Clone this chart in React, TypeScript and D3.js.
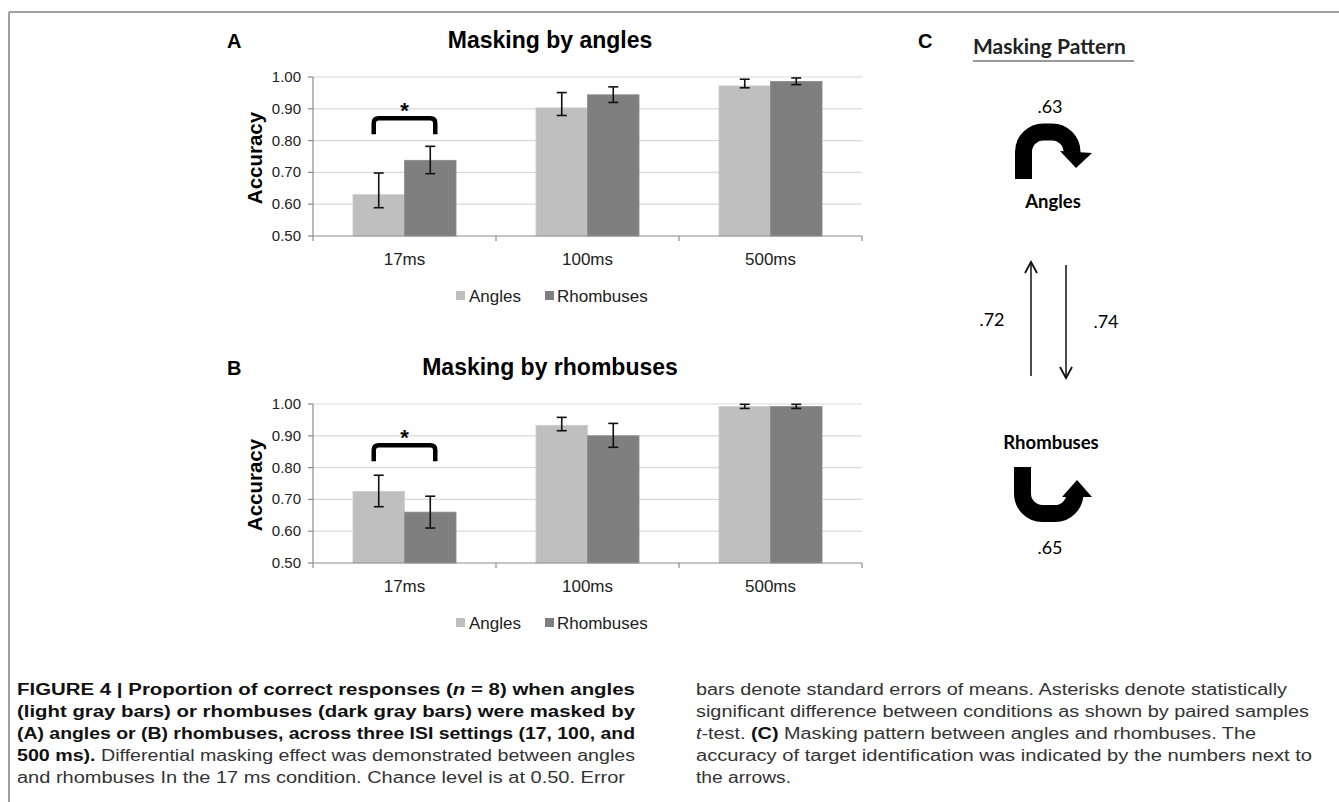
import React from 'react';
import * as d3 from 'd3';

// ---- data ----
const categories = ['17ms', '100ms', '500ms'];
const seriesNames = ['Angles', 'Rhombuses'];
const seriesColors = ['#bfbfbf', '#7f7f7f'];
const yTicks = [0.5, 0.6, 0.7, 0.8, 0.9, 1.0];

// panel A: masked by angles
const aAnglesMean = [0.63, 0.903, 0.972];
const aAnglesLo = [0.589, 0.879, 0.966];
const aAnglesHi = [0.698, 0.951, 0.993];
const aRhombMean = [0.738, 0.944, 0.986];
const aRhombLo = [0.696, 0.92, 0.976];
const aRhombHi = [0.782, 0.969, 0.997];

// panel B: masked by rhombuses
const bAnglesMean = [0.725, 0.933, 0.992];
const bAnglesLo = [0.677, 0.916, 0.986];
const bAnglesHi = [0.776, 0.958, 0.999];
const bRhombMean = [0.66, 0.9, 0.992];
const bRhombLo = [0.61, 0.864, 0.986];
const bRhombHi = [0.71, 0.939, 0.999];

// significance bracket (value range) over 17ms
const bracketLow = 0.82;
const bracketHigh = 0.87;

// panel C numbers: angles self, rhombuses->angles, angles->rhombuses, rhombuses self
const patternLabels = ['.63', '.72', '.74', '.65'];

type Seg = { t: string; b?: boolean; i?: boolean };
const captionLeft: Seg[][] = [
  [{ t: 'FIGURE 4 | Proportion of correct responses (', b: true }, { t: 'n', b: true, i: true }, { t: ' = 8) when angles', b: true }],
  [{ t: '(light gray bars) or rhombuses (dark gray bars) were masked by', b: true }],
  [{ t: '(A) angles or (B) rhombuses, across three ISI settings (17, 100, and', b: true }],
  [{ t: '500 ms).', b: true }, { t: ' Differential masking effect was demonstrated between angles' }],
  [{ t: 'and rhombuses In the 17 ms condition. Chance level is at 0.50. Error' }],
];
const captionLeftW = [618, 618, 618, 618, 608];
const captionRight: Seg[][] = [
  [{ t: 'bars denote standard errors of means. Asterisks denote statistically' }],
  [{ t: 'significant difference between conditions as shown by paired samples' }],
  [{ t: 't', i: true }, { t: '-test. ' }, { t: '(C)', b: true }, { t: ' Masking pattern between angles and rhombuses. The' }],
  [{ t: 'accuracy of target identification was indicated by the numbers next to' }],
  [{ t: 'the arrows.' }],
];
const captionRightW = [591, 613, 560, 616, 95];

const FONT = "'Liberation Sans', Arial, Helvetica, sans-serif";
const CFONT = "Lato, 'Open Sans', sans-serif";

interface PanelProps {
  dy: number;
  letter: string;
  title: string;
  means: number[][];
  lows: number[][];
  highs: number[][];
}

const BarPanel: React.FC<PanelProps> = ({ dy, letter, title, means, lows, highs }) => {
  const x = d3.scaleBand().domain(categories).range([313, 862]).paddingInner(0.437).paddingOuter(0.2185);
  const xs = d3.scaleBand().domain(seriesNames).range([0, x.bandwidth()]);
  const y = d3.scaleLinear().domain([0.5, 1]).range([236, 77]);
  const [r0, r1] = x.range();
  const step = x.step();
  const bound = d3.range(categories.length + 1).map((i) => r0 + i * step);

  // bracket between the two bar centres of the first category
  const c0 = x(categories[0])!;
  const bx1 = c0 + xs(seriesNames[0])! + xs.bandwidth() / 2 - 5;
  const bx2 = c0 + xs(seriesNames[1])! + xs.bandwidth() / 2 + 5;
  const bt = y(bracketHigh);
  const bb = y(bracketLow);
  const rr = 5;

  return (
    <g transform={`translate(0,${dy})`} fontFamily={FONT}>
      <text x={227} y={48} fontSize={20} fontWeight="bold">{letter}</text>
      <text x={550} y={48} fontSize={23} fontWeight="bold" textAnchor="middle">{title}</text>

      {/* grid */}
      {yTicks.slice(1).map((t) => (
        <line key={t} x1={r0} x2={r1} y1={y(t)} y2={y(t)} stroke="#d9d9d9" strokeWidth={1.2} />
      ))}

      {/* bars */}
      {categories.map((c, ci) => (
        <g key={c} transform={`translate(${x(c)},0)`}>
          {seriesNames.map((s, si) => (
            <rect key={s} x={xs(s)} y={y(means[si][ci])} width={xs.bandwidth()} height={y(0.5) - y(means[si][ci])}
              fill={seriesColors[si]} stroke={si === 0 ? '#cdcdcd' : '#8a8a8a'} strokeWidth={0.8} />
          ))}
        </g>
      ))}

      {/* error bars */}
      {categories.map((c, ci) =>
        seriesNames.map((s, si) => {
          const cx = x(c)! + xs(s)! + xs.bandwidth() / 2;
          const yl = y(lows[si][ci]);
          const yh = y(highs[si][ci]);
          return (
            <g key={c + s} stroke="#111" strokeWidth={1.6}>
              <line x1={cx} x2={cx} y1={yh} y2={yl} />
              <line x1={cx - 5} x2={cx + 5} y1={yh} y2={yh} />
              <line x1={cx - 5} x2={cx + 5} y1={yl} y2={yl} />
            </g>
          );
        })
      )}

      {/* axes */}
      <line x1={r0} x2={r0} y1={y(1)} y2={y(0.5)} stroke="#8c8c8c" strokeWidth={1.2} />
      {yTicks.map((t) => (
        <g key={t}>
          <line x1={r0 - 5} x2={r0} y1={y(t)} y2={y(t)} stroke="#8c8c8c" strokeWidth={1.2} />
          <text x={301} y={y(t) + 5} fontSize={15} textAnchor="end" fill="#222">{t.toFixed(2)}</text>
        </g>
      ))}
      <line x1={r0} x2={r1} y1={y(0.5)} y2={y(0.5)} stroke="#8c8c8c" strokeWidth={1.2} />
      {bound.map((bx) => (
        <line key={bx} x1={bx} x2={bx} y1={y(0.5)} y2={y(0.5) + 5} stroke="#8c8c8c" strokeWidth={1.2} />
      ))}
      {categories.map((c) => (
        <text key={c} x={x(c)! + x.bandwidth() / 2} y={265} fontSize={17} textAnchor="middle" fill="#222">{c}</text>
      ))}

      <text transform={`translate(262,158) rotate(-90)`} fontSize={20.5} fontWeight="bold" textAnchor="middle">Accuracy</text>

      {/* significance */}
      <path d={`M${bx1},${bb} V${bt + rr} Q${bx1},${bt} ${bx1 + rr},${bt} H${bx2 - rr} Q${bx2},${bt} ${bx2},${bt + rr} V${bb}`}
        fill="none" stroke="#000" strokeWidth={4.5} />
      <text x={(bx1 + bx2) / 2} y={y(0.91) + 12} fontSize={22} fontWeight="bold" textAnchor="middle">*</text>

      {/* legend */}
      <rect x={456} y={291} width={9} height={9} fill={seriesColors[0]} />
      <text x={469} y={302} fontSize={17} fill="#222">{seriesNames[0]}</text>
      <rect x={545} y={291} width={9} height={9} fill={seriesColors[1]} />
      <text x={557} y={302} fontSize={17} fill="#222">{seriesNames[1]}</text>
    </g>
  );
};

const CaptionLine: React.FC<{ segs: Seg[]; x: number; y: number; w: number }> = ({ segs, x, y, w }) => (
  <text x={x} y={y} fontSize={16} fontFamily="'Liberation Sans Narrow', 'Liberation Sans', Arial, sans-serif"
    fill="#2a2a2a" textLength={w} lengthAdjust="spacingAndGlyphs">
    {segs.map((s, i) => (
      <tspan key={i} fontWeight={s.b ? 'bold' : 'normal'} fontStyle={s.i ? 'italic' : 'normal'} fill={s.b ? '#111' : '#333'}>{s.t}</tspan>
    ))}
  </text>
);

const PatternPanel: React.FC = () => {
  const upHead = 'M1025,273 L1031,262 L1037,273';
  const downHead = 'M1060,367 L1066,378 L1072,367';
  return (
    <g>
      <text x={918} y={48} fontSize={20} fontWeight="bold" fontFamily={FONT}>C</text>
      <text x={973} y={54} fontSize={21} fontWeight="bold" fontFamily={CFONT} fill="#222">Masking Pattern</text>
      <line x1={973} x2={1134} y1={61} y2={61} stroke="#777" strokeWidth={1.6} />

      <text x={1050} y={113} fontSize={18} textAnchor="middle" fontFamily={CFONT}>{patternLabels[0]}</text>
      {/* curved arrow over angles */}
      <path d="M1023.5,179 V152 A20,20 0 0 1 1043.5,132 H1052 A20,20 0 0 1 1072,152 V153" fill="none" stroke="#000" strokeWidth={17} />
      <path d="M1060,151 L1092,153 L1076,168 Z" fill="#000" />
      <text x={1053} y={208} fontSize={18.5} fontWeight="bold" textAnchor="middle" fontFamily={CFONT}>Angles</text>

      <line x1={1031} x2={1031} y1={376} y2={263} stroke="#111" strokeWidth={1.5} />
      <path d={upHead} fill="none" stroke="#111" strokeWidth={1.8} />
      <line x1={1066} x2={1066} y1={265} y2={377} stroke="#111" strokeWidth={1.5} />
      <path d={downHead} fill="none" stroke="#111" strokeWidth={1.8} />
      <text x={992} y={326} fontSize={18} textAnchor="middle" fontFamily={CFONT}>{patternLabels[1]}</text>
      <text x={1106} y={328} fontSize={18} textAnchor="middle" fontFamily={CFONT}>{patternLabels[2]}</text>

      <text x={1051} y={449} fontSize={18.5} fontWeight="bold" textAnchor="middle" fontFamily={CFONT}>Rhombuses</text>
      {/* U-turn arrow under rhombuses */}
      <path d="M1022.5,467 V493 A20,20 0 0 0 1042.5,513.5 H1055 A20,20 0 0 0 1075,493.5 V495" fill="none" stroke="#000" strokeWidth={17} />
      <path d="M1062,497 L1092,497 L1077,480 Z" fill="#000" />
      <text x={1050} y={554} fontSize={18} textAnchor="middle" fontFamily={CFONT}>{patternLabels[3]}</text>
    </g>
  );
};

export default function App() {
  const lineY = [695, 717, 739, 761, 783];
  return (
    <svg width={1339} height={802} style={{ position: 'absolute', left: 0, top: 0, background: '#fff' }}>
      <rect width={1339} height={802} fill="#fff" />
      <line x1={9} x2={1339} y1={12} y2={12} stroke="#808080" strokeWidth={1.5} />
      <line x1={9} x2={9} y1={12} y2={802} stroke="#808080" strokeWidth={1.5} />

      <BarPanel dy={0} letter="A" title="Masking by angles"
        means={[aAnglesMean, aRhombMean]} lows={[aAnglesLo, aRhombLo]} highs={[aAnglesHi, aRhombHi]} />
      <BarPanel dy={327} letter="B" title="Masking by rhombuses"
        means={[bAnglesMean, bRhombMean]} lows={[bAnglesLo, bRhombLo]} highs={[bAnglesHi, bRhombHi]} />

      <PatternPanel />

      {captionLeft.map((segs, i) => (
        <CaptionLine key={'l' + i} segs={segs} x={17} y={lineY[i]} w={captionLeftW[i]} />
      ))}
      {captionRight.map((segs, i) => (
        <CaptionLine key={'r' + i} segs={segs} x={696} y={lineY[i]} w={captionRightW[i]} />
      ))}
    </svg>
  );
}
